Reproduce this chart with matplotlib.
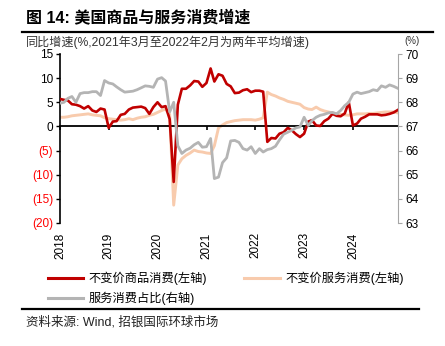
import matplotlib
matplotlib.use("Agg")
import matplotlib.pyplot as plt
import matplotlib.dates as mdates
from matplotlib.lines import Line2D
import pandas as pd

plt.rcParams["font.family"] = ["Liberation Sans", "Noto Sans CJK SC"]

# month-end observations, Dec-2017 .. Nov-2024
DATES = pd.date_range("2017-12-31", periods=84, freq="ME")

# real goods consumption, YoY % (left axis)
GOODS = [5.7, 5.5, 5.4, 4.6, 4.5, 4.2, 3.7, 4.2, 3.3, 3.0, 3.7, 3.5,
         -0.3, 1.0, 1.1, 2.4, 2.6, 3.5, 3.9, 4.0, 4.1, 3.8, 2.6, 4.0,
         5.0, 4.0, 4.2, 1.5, -11.5, 4.5, 7.8, 7.8, 8.5, 9.4, 9.3, 8.2,
         9.0, 12.0, 9.3, 10.8, 10.5, 8.8, 8.3, 6.9, 7.0, 7.5, 7.7, 7.1,
         7.4, 7.4, 7.2, -3.2, -2.4, -2.5, -1.5, -1.2, -0.3, -0.8, -1.6, -2.2,
         -1.5, 1.0, 1.3, 0.2, 0.1, 1.1, 1.6, 2.6, 2.2, 2.1, 2.7, 5.0,
         0.2, 0.6, 1.6, 2.0, 2.5, 2.5, 2.5, 2.3, 2.4, 2.6, 2.9, 3.4]

# real services consumption, YoY % (left axis)
SERVICES = [1.9, 1.9, 2.0, 2.2, 2.3, 2.4, 2.5, 2.6, 2.4, 2.3, 2.2, 1.8,
            1.6, 1.5, 1.4, 1.3, 1.4, 1.6, 1.4, 1.7, 1.9, 2.0, 2.3, 2.5,
            2.9, 3.3, 3.6, 2.5, -16.3, -8.0, -6.7, -6.0, -5.5, -4.9, -5.2, -5.3,
            -5.5, -5.6, -4.0, -0.3, 0.3, 0.8, 1.0, 1.2, 1.3, 1.4, 1.4, 1.4,
            1.3, 1.5, 1.8, 7.1, 6.6, 6.3, 5.9, 5.6, 5.2, 5.0, 4.8, 4.6,
            3.9, 3.6, 3.5, 4.0, 3.5, 3.2, 3.0, 2.8, 2.6, 2.5, 2.4, 2.3,
            2.4, 2.6, 2.6, 2.6, 2.7, 2.7, 2.8, 2.9, 3.0, 3.0, 3.0, 2.8]

# services share of consumption, % (right axis)
SHARE = [67.96, 68.00, 68.16, 68.24, 68.00, 68.36, 68.40, 68.40, 68.44, 68.44, 68.28, 68.90,
         68.80, 68.76, 68.64, 68.52, 68.42, 68.44, 68.46, 68.52, 68.60, 68.68, 68.66, 68.62,
         68.96, 69.02, 68.88, 67.60, 68.00, 66.20, 65.88, 66.02, 66.10, 66.24, 66.34, 66.14,
         66.16, 66.50, 64.84, 64.90, 65.50, 65.70, 66.40, 66.42, 66.34, 66.08, 66.02, 66.16,
         65.88, 66.08, 65.94, 66.04, 66.08, 66.18, 66.44, 66.68, 66.76, 66.84, 66.94, 66.98,
         67.38, 67.04, 67.24, 67.38, 67.46, 67.50, 67.56, 67.58, 67.52, 67.66, 67.86, 68.00,
         68.34, 68.42, 68.36, 68.40, 68.44, 68.52, 68.48, 68.68, 68.62, 68.72, 68.66, 68.58]

YEARS = [2018, 2019, 2020, 2021, 2022, 2023, 2024]
LEFT_TICKS = [15, 10, 5, 0, -5, -10, -15, -20]
RIGHT_TICKS = [70, 69, 68, 67, 66, 65, 64, 63]

RED = "#C00000"
PEACH = "#F8CBAD"
GREY = "#B4B4B4"

fig = plt.figure(figsize=(4.45, 3.46), dpi=100)
ax = fig.add_axes([60 / 445, 1 - 223 / 346, 338 / 445, 169 / 346])
ax2 = ax.twinx()

ax.plot(DATES, GOODS, color=RED, lw=1.9, zorder=3)
ax.plot(DATES, SERVICES, color=PEACH, lw=2.1, zorder=2)
ax2.plot(DATES, SHARE, color=GREY, lw=2.0)

ax.set_ylim(-20, 15)
ax2.set_ylim(63, 70)
ax.set_xlim(pd.Timestamp("2018-01-01"), pd.Timestamp("2024-12-02"))

ax.set_yticks(LEFT_TICKS)
ax.set_yticklabels([str(v) if v >= 0 else f"({-v})" for v in LEFT_TICKS], fontsize=8.5)
for t, v in zip(ax.get_yticklabels(), LEFT_TICKS):
    t.set_color("black" if v >= 0 else "#FF0000")
ax2.set_yticks(RIGHT_TICKS)
ax2.set_yticklabels([str(v) for v in RIGHT_TICKS], fontsize=8.5)

# x-axis drawn through zero, year labels at the bottom
ticks = [pd.Timestamp(f"{y}-01-01") for y in YEARS]
ax.set_xticks(ticks)
ax.xaxis.set_major_formatter(mdates.DateFormatter("%Y"))
ax.spines["bottom"].set_position(("data", 0))
ax.spines["bottom"].set_linewidth(1.3)
ax.tick_params(axis="x", direction="out", length=3, width=1.2, labelbottom=False)
for t, y in zip(ticks, YEARS):
    ax.text(t, -0.055, str(y), transform=ax.get_xaxis_transform(), rotation=90,
            ha="center", va="top", fontsize=8.5)

ax.spines["top"].set_visible(False)
ax.spines["right"].set_visible(False)
ax.spines["left"].set_linewidth(1.2)
ax.tick_params(axis="y", direction="out", length=3, width=1.0, pad=2)
for s in ("top", "bottom", "left"):
    ax2.spines[s].set_visible(False)
ax2.spines["right"].set_color("#A6A6A6")
ax2.tick_params(axis="y", direction="out", length=3, color="#A6A6A6", pad=2)

# header, legend, footer
fig.text(26 / 445, 1 - 17 / 346, "图 14: 美国商品与服务消费增速", fontsize=11.5,
         fontweight="bold", va="center", ha="left")
fig.add_artist(Line2D([22 / 445, 433 / 445], [1 - 32 / 346] * 2, color="black", lw=1.6))
fig.text(26 / 445, 1 - 42 / 346, "同比增速(%,2021年3月至2022年2月为两年平均增速)",
         fontsize=8.7, va="center", ha="left", color="#333333")
fig.text(412 / 445, 1 - 41 / 346, "(%)", fontsize=7, va="center", ha="center", color="#333333")

handles = [Line2D([0], [0], color=RED, lw=2.2, label="不变价商品消费(左轴)"),
           Line2D([0], [0], color=GREY, lw=2.2, label="服务消费占比(右轴)"),
           Line2D([0], [0], color=PEACH, lw=2.2, label="不变价服务消费(左轴)")]
fig.legend(handles=handles, ncol=2, loc="upper left", bbox_to_anchor=(37 / 445, 1 - 261 / 346),
           frameon=False, fontsize=8.8, handlelength=2.9, handletextpad=0.45,
           columnspacing=3.0, labelspacing=0.55)

fig.add_artist(Line2D([22 / 445, 419 / 445], [1 - 309 / 346] * 2, color="black", lw=1.6))
fig.text(26 / 445, 1 - 322 / 346, "资料来源: Wind, 招银国际环球市场", fontsize=9,
         va="center", ha="left", color="#222222")

fig.savefig("out.png", dpi=100)
